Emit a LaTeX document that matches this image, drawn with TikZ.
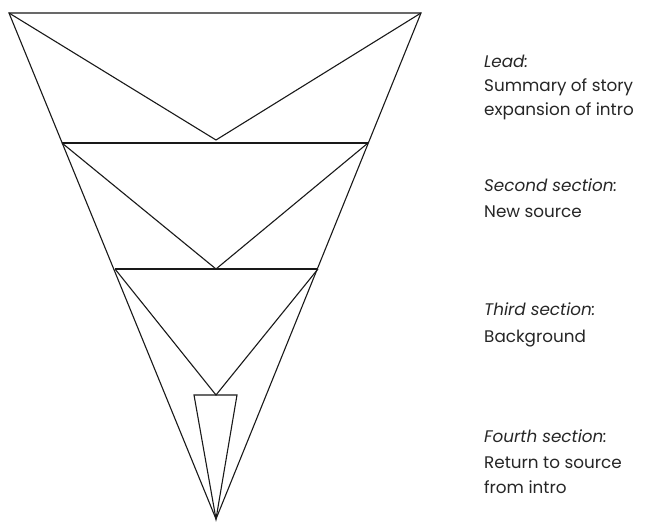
\documentclass[tikz,border=0pt]{standalone}
\usepackage{fontspec}
\setmainfont{Poppins}
\begin{document}
\begin{tikzpicture}[x=1pt,y=-1pt,
  edge/.style={draw=black!90, line width=1.1pt, line join=miter},
  lbl/.style={anchor=base west, inner sep=0pt, text=black!85, font=\fontsize{16.8}{20}\selectfont}]
\useasboundingbox (0,0) rectangle (646,522);
% vertices
\coordinate (TL) at (9,13);
\coordinate (TR) at (421,13);
\coordinate (A) at (216,519);
\coordinate (V1) at (216,140);
\coordinate (L2) at (62,143);
\coordinate (R2) at (368,143);
\coordinate (V2) at (216,269);
\coordinate (L3) at (115,269);
\coordinate (R3) at (318,269);
\coordinate (V3) at (216,395);
\coordinate (L4) at (194,395);
\coordinate (R4) at (237,395);
% outer triangle
\draw[edge] (TL) -- (TR) -- (A) -- cycle;
\draw[edge] (TL) -- (V1) -- (TR);
\draw[edge] (L2) -- (R2);
\draw[edge] (L2) -- (V2) -- (R2);
\draw[edge] (L3) -- (R3);
\draw[edge] (L3) -- (V3) -- (R3);
\draw[edge] (L4) -- (R4) -- (A) -- cycle;
% labels
\node[lbl] (t1a) at (484,67) {\itshape Lead:};
\node[lbl] (t1b) at (484,91) {Summary of story};
\node[lbl] (t1c) at (484,115) {expansion of intro};
\node[lbl] (t2a) at (484,191) {\itshape Second section:};
\node[lbl] (t2b) at (484,217) {New source};
\node[lbl] (t3a) at (484,315) {\itshape Third section:};
\node[lbl] (t3b) at (484,342) {Background};
\node[lbl] (t4a) at (484,442) {\itshape Fourth section:};
\node[lbl] (t4b) at (484,468) {Return to source};
\node[lbl] (t4c) at (484,493) {from intro};
\end{tikzpicture}
\end{document}
